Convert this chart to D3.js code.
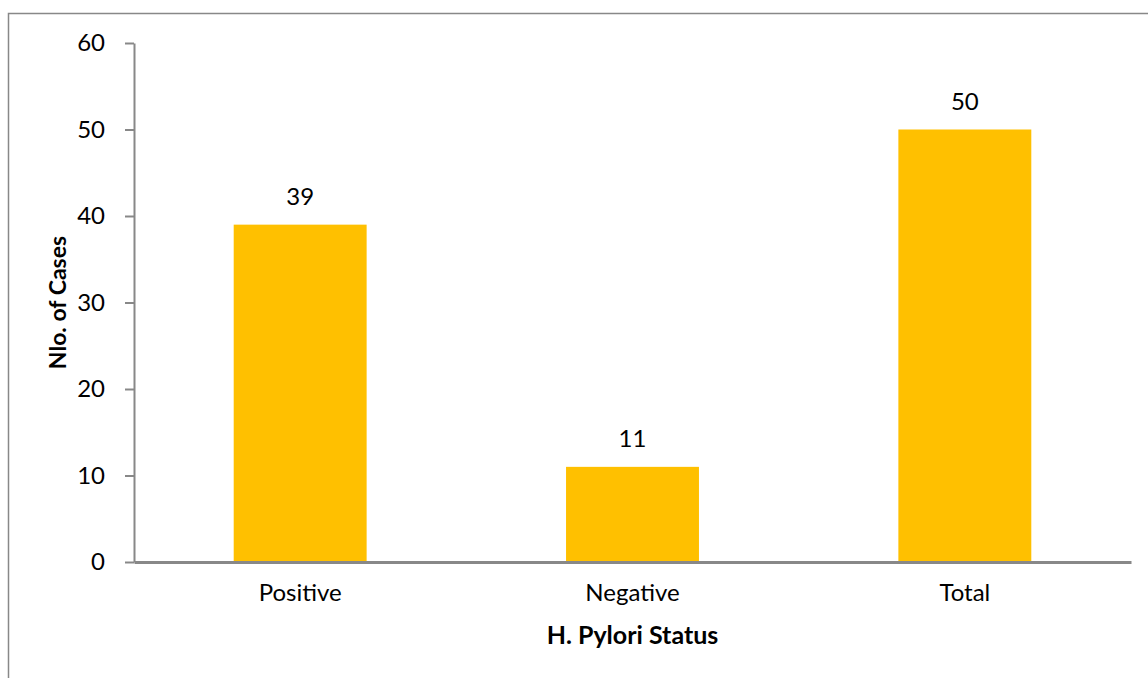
<!DOCTYPE html>
<html>
<head>
<meta charset="utf-8">
<script src="https://cdn.jsdelivr.net/npm/d3@7"></script>
<style>
  body { margin: 0; background: #fff; }
  text { font-family: Lato, "Open Sans", sans-serif; fill: #000; }
</style>
</head>
<body>
<div id="content"></div>
<script>
const categories = ["Positive", "Negative", "Total"];
const cases = [39, 11, 50];
const yTicks = [0, 10, 20, 30, 40, 50, 60];

const W = 1148, H = 678;
const margin = { left: 134, right: 17, top: 43, bottom: 116 };
const iW = W - margin.left - margin.right;
const iH = H - margin.top - margin.bottom;

const svg = d3.select("#content").append("svg")
  .attr("width", W).attr("height", H);

// chart frame
svg.append("rect")
  .attr("x", 8.5).attr("y", 13.5)
  .attr("width", W).attr("height", H)
  .attr("fill", "none").attr("stroke", "#888").attr("stroke-width", 1.5);

const g = svg.append("g")
  .attr("transform", "translate(" + margin.left + "," + margin.top + ")");

const xScale = d3.scaleBand().domain(categories).range([0, iW])
  .paddingInner(0.6).paddingOuter(0.3);
const yScale = d3.scaleLinear().domain([0, 60]).range([iH, 0]);

// bars
g.selectAll(".bar").data(categories).enter().append("rect")
  .attr("class", "bar")
  .attr("x", d => xScale(d))
  .attr("y", (d, i) => yScale(cases[i]))
  .attr("width", xScale.bandwidth())
  .attr("height", (d, i) => iH - yScale(cases[i]))
  .attr("fill", "#FFC000");

// value labels
g.selectAll(".val").data(categories).enter().append("text")
  .attr("x", d => xScale(d) + xScale.bandwidth() / 2)
  .attr("y", (d, i) => yScale(cases[i]) - 20)
  .attr("text-anchor", "middle")
  .style("font-size", "24px")
  .text((d, i) => cases[i]);

// y axis
const yAxis = g.append("g")
  .call(d3.axisLeft(yScale).tickValues(yTicks).tickSize(9).tickPadding(20).tickSizeOuter(0));
yAxis.select(".domain").attr("stroke", "#888").attr("stroke-width", 2);
yAxis.selectAll(".tick line").attr("stroke", "#888").attr("stroke-width", 2);
yAxis.selectAll(".tick text").style("font-size", "24px").attr("fill", "#000");

// x axis
const xAxis = g.append("g")
  .attr("transform", "translate(0," + iH + ")")
  .call(d3.axisBottom(xScale).tickSize(0).tickPadding(22).tickSizeOuter(0));
xAxis.select(".domain").attr("stroke", "#888").attr("stroke-width", 3);
xAxis.selectAll(".tick text").style("font-size", "24px").attr("fill", "#000");

// axis titles
svg.append("text")
  .attr("x", margin.left + iW / 2).attr("y", 644)
  .attr("text-anchor", "middle")
  .style("font-size", "25px").style("font-weight", "bold")
  .text("H. Pylori Status");

svg.append("text")
  .attr("transform", "translate(66," + (margin.top + iH / 2) + ") rotate(-90)")
  .attr("text-anchor", "middle")
  .style("font-size", "23px").style("font-weight", "bold")
  .text("Nlo. of Cases");
</script>
</body>
</html>
